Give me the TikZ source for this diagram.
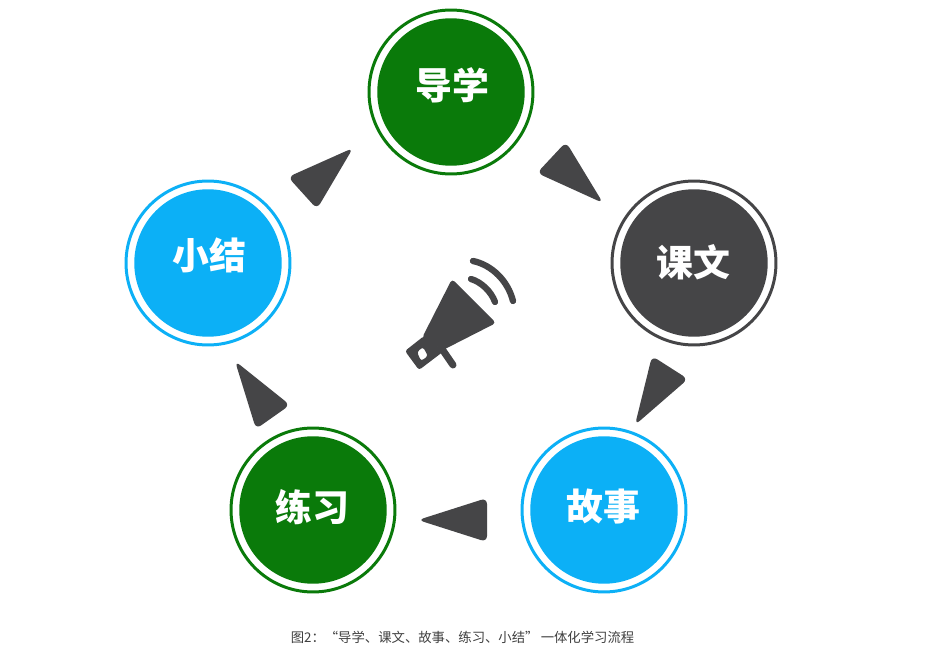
\documentclass[tikz,border=0pt]{standalone}
\usepackage{fontspec}
\usepackage{xcolor}
\setmainfont{Noto Sans CJK SC}
\definecolor{darkgreen}{HTML}{0A7A0A}
\definecolor{skyblue}{HTML}{0CB0F6}
\definecolor{charcoal}{HTML}{454547}
\tikzset{
  ringnode/.style={circle,fill=white,draw=#1,line width=1.7pt,minimum size=3.28cm,inner sep=0pt},
  discnode/.style={circle,fill=#1,minimum size=2.95cm,inner sep=0pt},
  namenode/.style={text=white,inner sep=0pt,font=\fontsize{21}{24}\selectfont\bfseries},
  pointer/.style={fill=charcoal,rounded corners=3.5pt},
  wave/.style={draw=charcoal,line width=3.6pt,line cap=round}
}
\begin{document}
\begin{tikzpicture}[x=0.02cm,y=-0.02cm]
    \useasboundingbox (0,0) rectangle (927,658);
    \fill[white] (0,0) rectangle (927,658);

    \node (rdaoxue) at (451,92) [ringnode=darkgreen] {};
    \node (rkewen) at (694,263) [ringnode=charcoal] {};
    \node (rgushi) at (604,510) [ringnode=skyblue] {};
    \node (rlianxi) at (313,510) [ringnode=darkgreen] {};
    \node (rxiaojie) at (208,263) [ringnode=skyblue] {};

    \node (ddaoxue) at (451,92) [discnode=darkgreen] {};
    \node (dkewen) at (694,263) [discnode=charcoal] {};
    \node (dgushi) at (604,510) [discnode=skyblue] {};
    \node (dlianxi) at (313,510) [discnode=darkgreen] {};
    \node (dxiaojie) at (208,263) [discnode=skyblue] {};

    \node (daoxue) at (452,85) [namenode] {导学};
    \node (kewen) at (693,262) [namenode] {课文};
    \node (gushi) at (603,507) [namenode] {故事};
    \node (lianxi) at (312,507) [namenode] {练习};
    \node (xiaojie) at (209,255) [namenode] {小结};

    \fill[pointer] (566,142) -- (537,173) -- (603,203) -- cycle;
    \fill[pointer] (652,356) -- (688,379) -- (635,425) -- cycle;
    \fill[pointer] (487,498) -- (487,542) -- (418,520) -- cycle;
    \fill[pointer] (235,361) -- (290,405) -- (256,429) -- cycle;
    \fill[pointer] (353,148) -- (288,177) -- (317,209) -- cycle;

    % loudspeaker
    \fill[charcoal,rounded corners=2pt] (452,279) -- (496,323) -- (443,350) -- (422,338) -- cycle;
    \fill[charcoal,even odd rule,rounded corners=1.5pt] (405,351) -- (424,336) -- (444,351) -- (419,370) -- cycle
        (417,352) -- (423,347) -- (428,356) -- (421,361) -- cycle;
    \draw[charcoal,line width=4pt,line cap=round] (442,349) -- (453,365);
    \draw[wave] (473,261) .. controls (492,265) and (508,281) .. (513,301);
    \draw[wave] (471,279) .. controls (481,282) and (491,291) .. (495,302);

    \node (caption) at (462.5,637) [text=black!75,font=\fontsize{7.6}{9}\selectfont] {图2：“导学、课文、故事、练习、小结”\,一体化学习流程};
\end{tikzpicture}
\end{document}
